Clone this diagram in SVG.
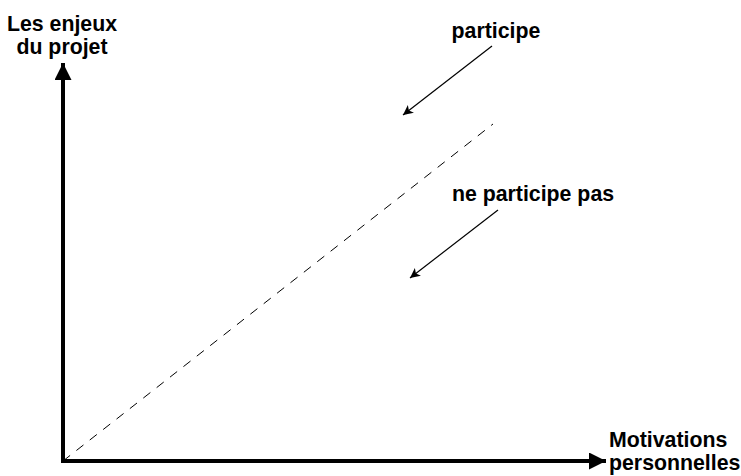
<svg xmlns="http://www.w3.org/2000/svg" width="741" height="476" viewBox="0 0 741 476">
<style>
.t{font-family:"Liberation Sans",Arial,Helvetica,sans-serif;font-weight:bold;font-size:21.3px;fill:#000}
.axis{stroke:#000;stroke-width:4;fill:none}
.thin{stroke:#000;stroke-width:1.2;fill:none}
.dash{stroke:#000;stroke-width:1;fill:none;stroke-dasharray:9 8}
</style>
<defs>
<marker id="big" viewBox="0 0 10 10" refX="10" refY="5" markerUnits="userSpaceOnUse" markerWidth="18" markerHeight="17" orient="auto">
<path d="M0,0 L10,5 L0,10 z" fill="#000"/>
</marker>
<marker id="small" viewBox="0 0 10 10" refX="10" refY="5" markerUnits="userSpaceOnUse" markerWidth="14" markerHeight="10" orient="auto">
<path d="M0,0 L10,5 L0,10 L2.5,5 z" fill="#000"/>
</marker>
</defs>
<g id="connectors">
<line class="axis" x1="63" y1="461" x2="63" y2="63" marker-end="url(#big)"/>
<line class="axis" x1="61" y1="461" x2="606" y2="461" marker-end="url(#big)"/>
<line class="dash" x1="63" y1="461" x2="493" y2="124"/>
<line class="thin" x1="492" y1="46" x2="403" y2="115" marker-end="url(#small)"/>
<line class="thin" x1="498" y1="210" x2="410" y2="278" marker-end="url(#small)"/>
</g>
<g id="label-y">
<text class="t" x="62" y="31" text-anchor="middle">Les enjeux</text>
<text class="t" x="62" y="54" text-anchor="middle">du projet</text>
</g>
<g id="label-x">
<text class="t" x="609" y="447">Motivations</text>
<text class="t" x="609" y="470">personnelles</text>
</g>
<g id="label-participe">
<text class="t" x="496" y="38" text-anchor="middle">participe</text>
</g>
<g id="label-ne-participe-pas">
<text class="t" x="533" y="201" text-anchor="middle">ne participe pas</text>
</g>
</svg>
